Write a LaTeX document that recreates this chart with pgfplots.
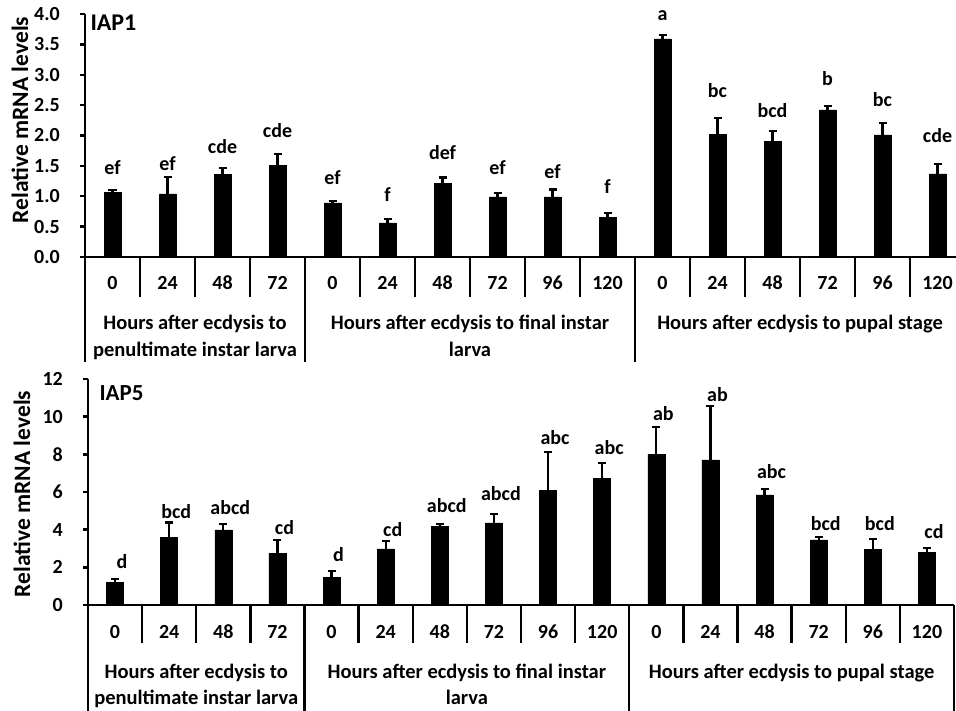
\documentclass[border=0pt]{standalone}
\usepackage{fontspec}
\setmainfont{Carlito}
\usepackage{pgfplots}
\pgfplotsset{compat=1.18}
\usepackage{pgfplotstable}

\pgfplotstableread{
x y e ly lab
0 1.06 0.04 1.35 ef
1 1.04 0.28 1.43 ef
2 1.36 0.11 1.71 cde
3 1.51 0.19 1.96 cde
4 0.89 0.03 1.19 ef
5 0.56 0.06 0.92 f
6 1.21 0.10 1.60 def
7 0.99 0.07 1.35 ef
8 0.99 0.12 1.30 ef
9 0.65 0.08 1.05 f
10 3.59 0.06 3.90 a
11 2.02 0.27 2.62 bc
12 1.90 0.17 2.30 bcd
13 2.42 0.07 2.83 b
14 2.01 0.20 2.47 bc
15 1.37 0.16 1.88 cde
}\dataA

\pgfplotstableread{
x y e ly lab
0 1.19 0.18 1.95 d
1 3.58 0.80 4.60 bcd
2 3.99 0.32 4.78 abcd
3 2.75 0.71 3.75 cd
4 1.47 0.34 2.30 d
5 2.98 0.42 3.66 cd
6 4.17 0.14 4.92 abcd
7 4.36 0.48 5.54 abcd
8 6.10 2.04 8.50 abc
9 6.74 0.80 7.97 abc
10 8.01 1.44 9.82 ab
11 7.71 2.84 10.80 ab
12 5.85 0.30 6.73 abc
13 3.46 0.17 3.98 bcd
14 2.96 0.55 3.98 bcd
15 2.80 0.23 3.54 cd
}\dataB

\newcommand{\fnt}{\fontsize{20bp}{24bp}\selectfont\bfseries}
\newcommand{\gfnt}{\fontsize{20.5bp}{25bp}\selectfont\bfseries}

\tikzset{sep/.style={line width=2.4bp, black}}

\pgfplotsset{
  common/.style={
    scale only axis, anchor=south west, clip=false,
    xmin=-0.5, xmax=15.5,
    axis x line*=bottom, axis y line*=left,
    axis line style={line width=2.4bp, -},
    tick align=outside, major tick length=5bp,
    ytick style={line width=2.4bp, black},
    xtick={0,...,15},
    xticklabels={0,24,48,72,0,24,48,72,96,120,0,24,48,72,96,120},
    xtick style={draw=none},
    ticklabel style={font=\fnt},
    /pgf/number format/assume math mode=true,
    xticklabel style={anchor=base, yshift=-28bp},
    yticklabel style={anchor=east, inner sep=0pt, xshift=-20bp},
  },
  barstyle/.style={ybar, bar width=17bp, fill=black, draw=black,
    error bars/.cd, y dir=plus, y explicit,
    error bar style={line width=2.2bp, black},
    error mark options={rotate=90, mark size=4bp, line width=2.2bp, black}},
  labstyle/.style={draw=none, mark=none, nodes near coords, point meta=explicit symbolic,
    every node near coord/.append style={anchor=base, font=\fnt, inner sep=0pt, black}},
}

\begin{document}
\begin{tikzpicture}
\useasboundingbox (0,0) rectangle (956bp,711bp);

% ---- top panel: IAP1
\begin{axis}[common, at={(85bp,454bp)}, width=880bp, height=243bp,
  ymin=0, ymax=4, ytick={0,0.5,...,4},
  yticklabel style={/pgf/number format/.cd, fixed, fixed zerofill, precision=1}]
\addplot[barstyle] table[x=x, y=y, y error=e] {\dataA};
\addplot[labstyle] table[x=x, y=ly, meta=lab] {\dataA};
\pgfplotsinvokeforeach{0.5,1.5,2.5,4.5,5.5,6.5,7.5,8.5,10.5,11.5,12.5,13.5,14.5}{
  \draw[sep] (axis cs:#1,0) -- ([yshift=-40bp]axis cs:#1,0);}
\pgfplotsinvokeforeach{-0.5,3.5,9.5}{
  \draw[sep] (axis cs:#1,0) -- ([yshift=-105bp]axis cs:#1,0);}
\node[anchor=base, font=\gfnt] at (axis cs:1.5,0) [yshift=-73bp] {Hours after ecdysis to};
\node[anchor=base, font=\gfnt] at (axis cs:1.5,0) [yshift=-100bp] {penultimate instar larva};
\node[anchor=base, font=\gfnt] at (axis cs:6.5,0) [yshift=-73bp] {Hours after ecdysis to final instar};
\node[anchor=base, font=\gfnt] at (axis cs:6.5,0) [yshift=-100bp] {larva};
\node[anchor=base, font=\gfnt] at (axis cs:12.5,0) [yshift=-73bp] {Hours after ecdysis to pupal stage};
\end{axis}

% ---- bottom panel: IAP5
\begin{axis}[common, at={(88bp,106bp)}, width=866bp, height=226bp,
  ymin=0, ymax=12, ytick={0,2,...,12}]
\addplot[barstyle] table[x=x, y=y, y error=e] {\dataB};
\addplot[labstyle, every node near coord/.append style={xshift=7bp}] table[x=x, y=ly, meta=lab] {\dataB};
\pgfplotsinvokeforeach{0.5,1.5,2.5,4.5,5.5,6.5,7.5,8.5,10.5,11.5,12.5,13.5,14.5}{
  \draw[sep] (axis cs:#1,0) -- ([yshift=-38bp]axis cs:#1,0);}
\pgfplotsinvokeforeach{-0.5,3.5,9.5,15.5}{
  \draw[sep] (axis cs:#1,0) -- ([yshift=-106bp]axis cs:#1,0);}
\node[anchor=base, font=\gfnt] at (axis cs:1.5,0) [yshift=-73bp] {Hours after ecdysis to};
\node[anchor=base, font=\gfnt] at (axis cs:1.5,0) [yshift=-99bp] {penultimate instar larva};
\node[anchor=base, font=\gfnt] at (axis cs:6.5,0) [yshift=-73bp] {Hours after ecdysis to final instar};
\node[anchor=base, font=\gfnt] at (axis cs:6.5,0) [yshift=-99bp] {larva};
\node[anchor=base, font=\gfnt] at (axis cs:12.5,0) [yshift=-73bp] {Hours after ecdysis to pupal stage};
\end{axis}

\node[anchor=base west, font=\fontsize{24bp}{28bp}\selectfont\bfseries] at (87bp,680bp) {IAP1};
\node[anchor=base west, font=\fontsize{23bp}{28bp}\selectfont\bfseries] at (96bp,310bp) {IAP5};
\node[rotate=90, font=\fontsize{23.5bp}{28bp}\selectfont\bfseries] at (20bp,591bp) {Relative mRNA levels};
\node[rotate=90, font=\fontsize{23.5bp}{28bp}\selectfont\bfseries] at (22bp,217bp) {Relative mRNA levels};
\end{tikzpicture}
\end{document}
